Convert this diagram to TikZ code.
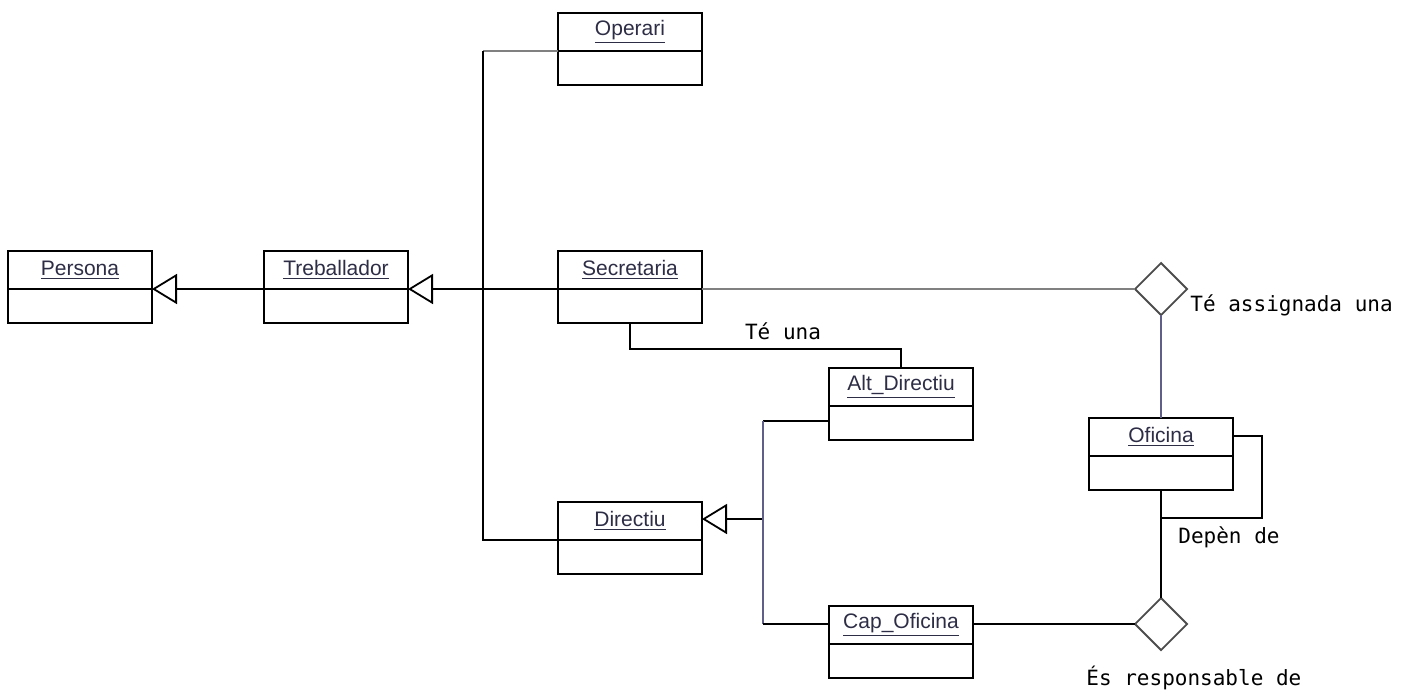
\documentclass[tikz,border=0pt]{standalone}
\usepackage{fontspec}
\setmainfont{Liberation Sans}
\newfontfamily\assocfont{DejaVu Sans Mono}
\usetikzlibrary{arrows.meta,shapes.geometric}
\definecolor{lnGray}{RGB}{128,128,128}
\definecolor{lnBlue}{RGB}{95,95,135}
\definecolor{txtName}{RGB}{45,45,70}
\newcommand\umlclass[4]{%
  \node[classbox] (#1) at (#2,#3) {};
  \coordinate (#1-dw) at ([yshift=-19pt]#1.north west);
  \coordinate (#1-de) at ([yshift=-19pt]#1.north east);
  \draw[conn] (#1-dw) -- (#1-de);
  \node[classname] (#1-name) at ([yshift=-9.5pt]#1.north) {\underline{#4}};
}
\begin{document}
\begin{tikzpicture}[x=0.5pt,y=-0.5pt,
  conn/.style={line width=0.9pt},
  classbox/.style={draw,line width=0.9pt,minimum width=72pt,minimum height=36pt,inner sep=0pt,outer sep=0pt,anchor=north west},
  classname/.style={font=\fontsize{10.5}{12}\selectfont,text=txtName,inner sep=0pt},
  gen/.style={conn,-{Triangle[open,length=12.5pt,width=15pt]}},
  assoc/.style={diamond,draw=black!70,line width=0.9pt,minimum width=26pt,minimum height=26pt,inner sep=0pt,outer sep=0pt},
  asslabel/.style={font=\assocfont\fontsize{10.5}{12}\selectfont,inner sep=0pt}]
\useasboundingbox (0,0) rectangle (1416,691);

\umlclass{persona}{8}{251}{Persona}
\umlclass{treb}{264}{251}{Treballador}
\umlclass{oper}{558}{13}{Operari}
\umlclass{secr}{558}{251}{Secretaria}
\umlclass{alt}{829}{368}{Alt\_Directiu}
\umlclass{dir}{558}{502}{Directiu}
\umlclass{cap}{829}{606}{Cap\_Oficina}
\umlclass{ofi}{1089}{418}{Oficina}

\node[assoc] (dia1) at (1161,289) {};
\node[assoc] (dia2) at (1161,624) {};

\coordinate (j1) at (483,289);
\coordinate (j2) at (763,519);
\coordinate (ofiloop) at (1161,518);

% generalisations
\draw[gen] (treb-dw) -- (persona-de);
\draw[gen] (j1) -- (treb-de);
\draw[conn] (secr-dw) -- (j1);
\draw[conn,lnGray] (oper-dw) -- (oper-dw -| j1);
\draw[conn] (oper-dw -| j1) -- (j1);
\draw[conn] (dir-dw) -| (j1);

\draw[gen] (j2) -- ([yshift=-8.5pt]dir.north east);
\draw[conn] ([yshift=-26.5pt]alt.north west) -- ([yshift=-26.5pt]alt.north west -| j2);
\draw[conn,lnBlue] ([yshift=-26.5pt]alt.north west -| j2) -- ([yshift=-9pt]cap.north west -| j2);
\draw[conn] ([yshift=-9pt]cap.north west -| j2) -- ([yshift=-9pt]cap.north west);

% associations
\draw[conn] (secr.south) -- ++(0,26) -| (alt.north);
\node[asslabel,anchor=base] (lbl1) at (783,339) {Té una};

\draw[conn,lnGray] (secr-de) -- (dia1.west);
\draw[conn,lnBlue] (dia1.south) -- (ofi.north);
\node[asslabel,anchor=base west] (lbl2) at (1190,311) {Té assignada una};

\draw[conn] ([yshift=-9pt]ofi.north east) -| ([xshift=14.5pt]ofi.east |- ofiloop) -- (ofiloop);
\node[asslabel,anchor=base west] (lbl3) at (1178,543) {Depèn de};

\draw[conn] (ofi.south) -- (dia2.north);
\draw[conn] ([yshift=-9pt]cap.north east) -- (dia2.west);
\node[asslabel,anchor=base west] (lbl4) at (1086,685) {És responsable de};
\end{tikzpicture}
\end{document}
